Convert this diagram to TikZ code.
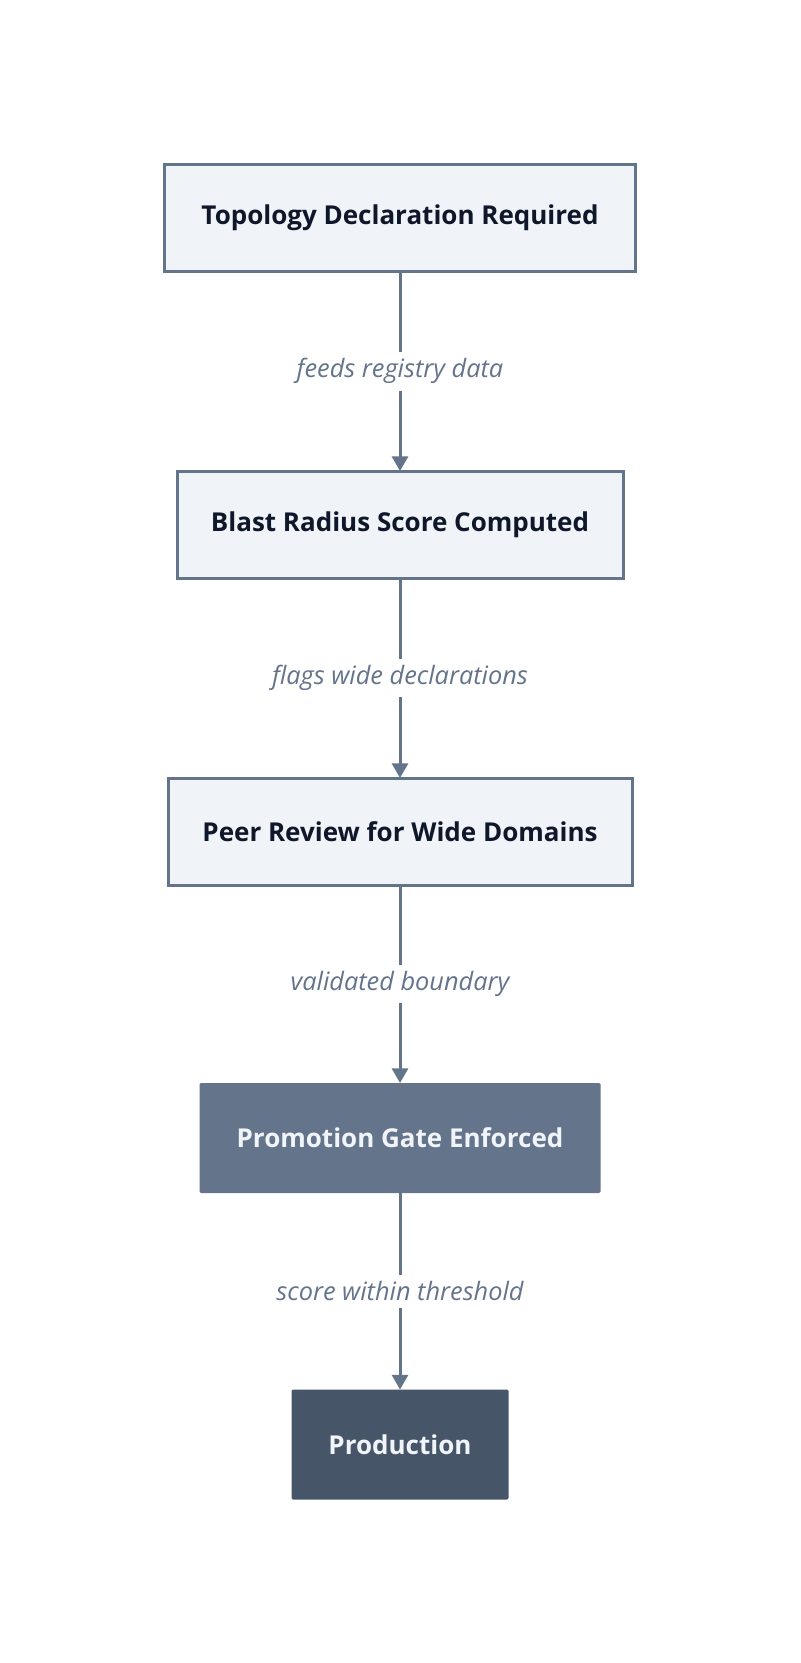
\documentclass[tikz,border=0pt]{standalone}
\usepackage{fontspec}
\setmainfont{Open Sans}
\usetikzlibrary{arrows.meta}
\definecolor{stepfill}{HTML}{F0F4F8}
\definecolor{stepline}{HTML}{64748B}
\definecolor{gatefill}{HTML}{64748B}
\definecolor{prodfill}{HTML}{475569}
\definecolor{stepink}{HTML}{0F172A}
\definecolor{paleink}{HTML}{F1F5F9}
\tikzset{
    stepbox/.style = {draw = stepline, fill = stepfill, line width = 2.25pt, outer sep = 0pt,
        minimum height = 80.25pt, text = stepink, font = \bfseries\fontsize{19.5}{23}\selectfont},
    gatebox/.style = {fill = gatefill, minimum height = 82.5pt, rounded corners = 1pt, outer sep = 0pt,
        text = paleink, font = \bfseries\fontsize{19.5}{23}\selectfont},
    prodbox/.style = {gatebox, fill = prodfill},
    flow/.style = {draw = stepline, line width = 2.25pt, -{Triangle[length=11pt,width=12pt]}},
    flowlabel/.style = {fill = white, text = stepline, inner sep = 5pt,
        font = \itshape\fontsize{19}{23}\selectfont}
}
\begin{document}
\begin{tikzpicture}[x=0.75pt, y=-0.75pt]
            \useasboundingbox (0,0) rectangle (800,1663);
            \node[stepbox, minimum width = 353.25pt] (topology) at (400,218) {Topology Declaration Required};
            \node[stepbox, minimum width = 334.5pt] (blast) at (400,524.5) {Blast Radius Score Computed};
            \node[stepbox, minimum width = 348pt] (review) at (400,831.5) {Peer Review for Wide Domains};
            \node[gatebox, minimum width = 300.75pt] (gate) at (400,1138) {Promotion Gate Enforced};
            \node[prodbox, minimum width = 162.75pt] (prod) at (400,1444.5) {Production};
            \draw[flow] (topology) -- node[flowlabel] {feeds registry data} (blast);
            \draw[flow] (blast) -- node[flowlabel] {flags wide declarations} (review);
            \draw[flow] (review) -- node[flowlabel] {validated boundary} (gate);
            \draw[flow] (gate) -- node[flowlabel] {score within threshold} (prod);
        \end{tikzpicture}
\end{document}
